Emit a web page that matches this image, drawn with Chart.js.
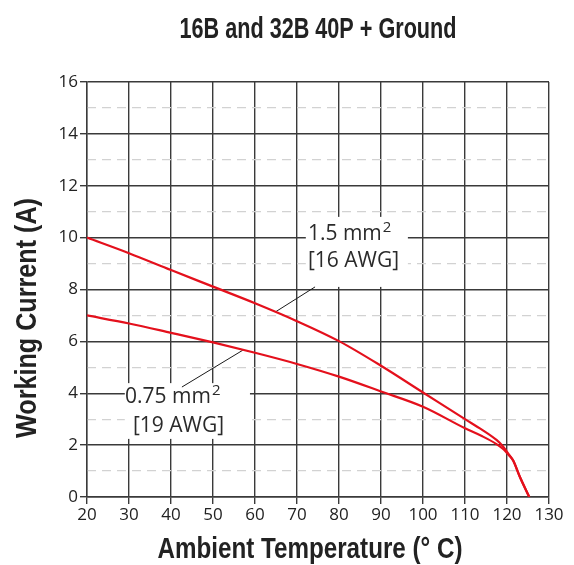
<!DOCTYPE html>
<html>
<head>
<meta charset="utf-8">
<script src="https://cdn.jsdelivr.net/npm/chart.js@4"></script>
<style>
  html, body { margin: 0; padding: 0; background: #fff; }
  #wrap { width: 574px; height: 565px; }
</style>
</head>
<body>
<div id="wrap"><canvas id="c" width="574" height="565"></canvas></div>
<script>
// ---- data ----
const chartTitle = '16B and 32B 40P + Ground';
const xTitle = 'Ambient Temperature (° C)';
const yTitle = 'Working Current (A)';

const temps15 = [20, 30, 40, 50, 60, 70, 80, 90, 100, 110, 114, 117.5, 119, 120.5, 121.5, 123, 125.3];
const current15 = [10, 9.4, 8.75, 8.11, 7.47, 6.78, 6.01, 5.06, 4.03, 3.0, 2.6, 2.2, 1.96, 1.63, 1.4, 0.8, 0];

const temps075 = [20, 30, 40, 50, 60, 70, 80, 90, 100, 110, 114, 117.5, 119, 120.5, 121.5, 123, 125.3];
const current075 = [7.0, 6.69, 6.33, 5.96, 5.56, 5.13, 4.64, 4.07, 3.48, 2.65, 2.35, 2.04, 1.86, 1.6, 1.4, 0.8, 0];

const xTickValues = [20, 30, 40, 50, 60, 70, 80, 90, 100, 110, 120, 130];
const yTickValues = [0, 2, 4, 6, 8, 10, 12, 14, 16];
const yMinorValues = [1, 3, 5, 7, 9, 11, 13, 15];

const label15 = ['1.5 mm', '2', '[16 AWG]'];
const label075 = ['0.75 mm', '2', '[19 AWG]'];

// annotation placement (data coordinates)
const annotations = [
  { lines: label15, box: [72.1, 96.4, 8.1, 10.8], l1: [72.6, 9.91], l2: [72.6, 8.88], leader: [74.3, 8.1, 65.0, 7.15] },
  { lines: label075, box: [29.0, 58.8, 2.24, 4.39], l1: [29.05, 3.62], l2: [30.95, 2.51], leader: [42.6, 4.24, 57.1, 5.66] }
];

const RED = '#e4101c';
const GRID = '#3a3a3a';
const BOLD = "bold 29px 'Liberation Sans', Arial, sans-serif";
const SANS = "'Open Sans', 'Noto Sans', sans-serif";

const pts = (xs, ys) => xs.map((x, i) => ({ x: x, y: ys[i] }));

function condensed(ctx, text, cx, baseline, targetW, rotate) {
  ctx.save();
  ctx.font = BOLD;
  ctx.fillStyle = '#222';
  ctx.textAlign = 'center';
  ctx.textBaseline = 'alphabetic';
  const w = ctx.measureText(text).width;
  ctx.translate(cx, baseline);
  if (rotate) ctx.rotate(-Math.PI / 2);
  ctx.scale(targetW / w, 1);
  ctx.fillText(text, 0, 0);
  ctx.restore();
}

const titlesPlugin = {
  id: 'titles',
  afterDraw(chart) {
    const { ctx, chartArea: ca } = chart;
    const cx = (ca.left + ca.right) / 2;
    condensed(ctx, chartTitle, cx, 38, 277, false);
    condensed(ctx, xTitle, cx - 8, 558, 305, false);
    ctx.save();
    ctx.font = BOLD;
    ctx.fillStyle = '#222';
    ctx.textAlign = 'center';
    ctx.textBaseline = 'alphabetic';
    const w = ctx.measureText(yTitle).width;
    ctx.translate(36, 318);
    ctx.rotate(-Math.PI / 2);
    ctx.scale(240 / w, 1);
    ctx.fillText(yTitle, 0, 0);
    ctx.restore();
  }
};

const annotationPlugin = {
  id: 'labels',
  beforeDatasetsDraw(chart) {
    const { ctx, scales: { x, y } } = chart;
    ctx.save();
    annotations.forEach(a => {
      const x0 = x.getPixelForValue(a.box[0]), x1 = x.getPixelForValue(a.box[1]);
      const y0 = y.getPixelForValue(a.box[3]), y1 = y.getPixelForValue(a.box[2]);
      ctx.fillStyle = '#fff';
      ctx.fillRect(x0, y0, x1 - x0, y1 - y0);
      ctx.strokeStyle = '#1a1a1a';
      ctx.lineWidth = 1;
      ctx.beginPath();
      ctx.moveTo(x.getPixelForValue(a.leader[0]), y.getPixelForValue(a.leader[1]));
      ctx.lineTo(x.getPixelForValue(a.leader[2]), y.getPixelForValue(a.leader[3]));
      ctx.stroke();
      ctx.fillStyle = '#2a2a2a';
      ctx.textBaseline = 'alphabetic';
      ctx.textAlign = 'left';
      ctx.font = '21px ' + SANS;
      const tx = x.getPixelForValue(a.l1[0]), ty = y.getPixelForValue(a.l1[1]);
      ctx.fillText(a.lines[0], tx, ty);
      const w = ctx.measureText(a.lines[0]).width;
      ctx.font = '15px ' + SANS;
      ctx.fillText(a.lines[1], tx + w + 1, ty - 8);
      ctx.font = '21px ' + SANS;
      ctx.fillText(a.lines[2], x.getPixelForValue(a.l2[0]), y.getPixelForValue(a.l2[1]));
    });
    ctx.restore();
  }
};

new Chart(document.getElementById('c'), {
  type: 'line',
  data: {
    datasets: [
      { label: '1.5 mm2', data: pts(temps15, current15), borderColor: RED, borderWidth: 2.2, pointRadius: 0, cubicInterpolationMode: 'monotone', fill: false },
      { label: '0.75 mm2', data: pts(temps075, current075), borderColor: RED, borderWidth: 2.2, pointRadius: 0, cubicInterpolationMode: 'monotone', fill: false }
    ]
  },
  options: {
    responsive: false,
    animation: false,
    devicePixelRatio: 1,
    layout: { padding: { left: 0, right: 25, top: 82, bottom: 0 } },
    plugins: {
      legend: { display: false },
      tooltip: { enabled: false },
      title: { display: false }
    },
    scales: {
      x: {
        type: 'linear',
        min: 20, max: 130,
        afterBuildTicks: s => { s.ticks = xTickValues.map(v => ({ value: v })); },
        afterFit: s => { s.height = 68; },
        ticks: { color: '#222', font: { family: SANS, size: 17 }, padding: 1, maxRotation: 0 },
        grid: { color: GRID, lineWidth: 1.4, tickLength: 7 },
        border: { color: GRID, width: 1.4 }
      },
      y: {
        type: 'linear',
        min: 0, max: 16,
        afterBuildTicks: s => { s.ticks = yTickValues.map(v => ({ value: v })); },
        afterFit: s => { s.width = 87; },
        ticks: { color: '#222', font: { family: SANS, size: 17 }, padding: 2 },
        grid: { color: GRID, lineWidth: 1.4, tickLength: 7 },
        border: { color: GRID, width: 1.4 }
      },
      yMinor: {
        type: 'linear',
        position: 'left',
        min: 0, max: 16,
        afterBuildTicks: s => { s.ticks = yMinorValues.map(v => ({ value: v })); },
        afterFit: s => { s.width = 0; },
        ticks: { display: false },
        grid: { color: '#d2d2d2', lineWidth: 1.3, drawTicks: false, z: -1 },
        border: { display: false, dash: [9, 6] }
      }
    }
  },
  plugins: [annotationPlugin, titlesPlugin]
});
</script>
</body>
</html>
